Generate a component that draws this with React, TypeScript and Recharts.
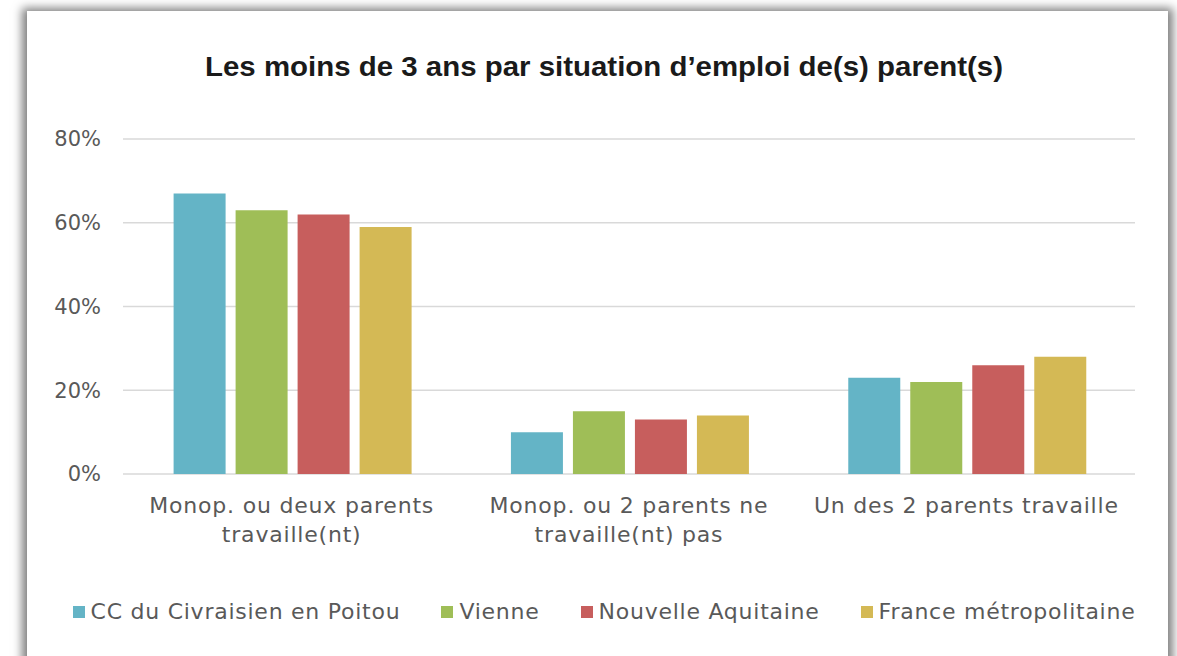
import React from 'react';
import { BarChart, Bar, XAxis, YAxis, CartesianGrid, Legend } from 'recharts';

// categories (line breaks as in the original labels)
const categories = [
  'Monop. ou deux parents\ntravaille(nt)',
  'Monop. ou 2 parents ne\ntravaille(nt) pas',
  'Un des 2 parents travaille',
];

const seriesNames = ['CC du Civraisien en Poitou', 'Vienne', 'Nouvelle Aquitaine', 'France métropolitaine'];
const seriesColors = ['#64b4c6', '#9fbe57', '#c75e5d', '#d4b955'];

const civraisien = [67, 10, 23];
const vienne = [63, 15, 22];
const nouvelleAquitaine = [62, 13, 26];
const franceMetro = [59, 14, 28];

const yTicks = [0, 20, 40, 60, 80];

const data = categories.map((name, i) => ({
  name,
  s0: civraisien[i],
  s1: vienne[i],
  s2: nouvelleAquitaine[i],
  s3: franceMetro[i],
}));

const FONT = '"DejaVu Sans", sans-serif';
const TEXT_COLOR = '#595959';

const CategoryTick = (props: any) => {
  const { x, y, payload } = props;
  const lines = String(payload.value).split('\n');
  return (
    <text x={x} y={y} textAnchor="middle" fill={TEXT_COLOR} fontSize={22} fontFamily={FONT} letterSpacing={0.8}>
      {lines.map((line, i) => (
        <tspan key={i} x={x} dy={i === 0 ? 39 : 29}>{line}</tspan>
      ))}
    </text>
  );
};

const LegendContent = () => (
  <div
    style={{
      display: 'flex',
      justifyContent: 'center',
      alignItems: 'flex-start',
      gap: 41,
      paddingTop: 4,
      height: 56,
      boxSizing: 'content-box',
      fontFamily: FONT,
      fontSize: 22,
      lineHeight: '24px',
      letterSpacing: 0.75,
      color: TEXT_COLOR,
    }}
  >
    {seriesNames.map((n, i) => (
      <div key={n} style={{ display: 'flex', alignItems: 'center', whiteSpace: 'nowrap', height: 24 }}>
        <span style={{ width: 12, height: 12, background: seriesColors[i], marginRight: 6, display: 'inline-block' }} />
        <span>{n}</span>
      </div>
    ))}
  </div>
);

export default function App() {
  return (
    <div style={{ position: 'fixed', left: 0, top: 0, width: 1177, height: 656, background: '#fff', overflow: 'hidden' }}>
      <div
        style={{
          position: 'absolute',
          left: 27,
          top: 11,
          width: 1141,
          height: 720,
          background: '#fff',
          boxShadow: '0 2px 9px 5px rgba(0,0,0,0.5)',
        }}
      />
      <svg style={{ position: 'absolute', left: 0, top: 0 }} width={1177} height={120}>
        <text
          x={604}
          y={76}
          textAnchor="middle"
          fontFamily='"Liberation Sans", Arial, sans-serif'
          fontWeight="bold"
          fontSize={28}
          fill="#1a1a1a"
          textLength={798}
          lengthAdjust="spacingAndGlyphs"
        >
          Les moins de 3 ans par situation d’emploi de(s) parent(s)
        </text>
      </svg>
      <div style={{ position: 'absolute', left: 0, top: 0 }}>
        <BarChart
          width={1177}
          height={656}
          data={data}
          margin={{ top: 139, right: 42, left: 0, bottom: 0 }}
          barCategoryGap="15%"
          barGap={10}
        >
          <CartesianGrid horizontal vertical={false} stroke="#d9d9d9" strokeWidth={1.5} />
          <XAxis
            dataKey="name"
            axisLine={false}
            tickLine={false}
            tickSize={0}
            tickMargin={0}
            height={122}
            interval={0}
            tick={<CategoryTick />}
          />
          <YAxis
            width={123}
            domain={[0, 80]}
            ticks={yTicks}
            axisLine={false}
            tickLine={false}
            tickSize={0}
            tickMargin={22}
            tickFormatter={(v: number) => `${v}%`}
            tick={{ fill: TEXT_COLOR, fontSize: 21, fontFamily: FONT }}
          />
          <Legend
            verticalAlign="bottom"
            wrapperStyle={{ left: 0, width: 1208 }}
            content={<LegendContent />}
          />
          {seriesNames.map((n, i) => (
            <Bar key={n} dataKey={`s${i}`} name={n} fill={seriesColors[i]} isAnimationActive={false} />
          ))}
        </BarChart>
      </div>
    </div>
  );
}
